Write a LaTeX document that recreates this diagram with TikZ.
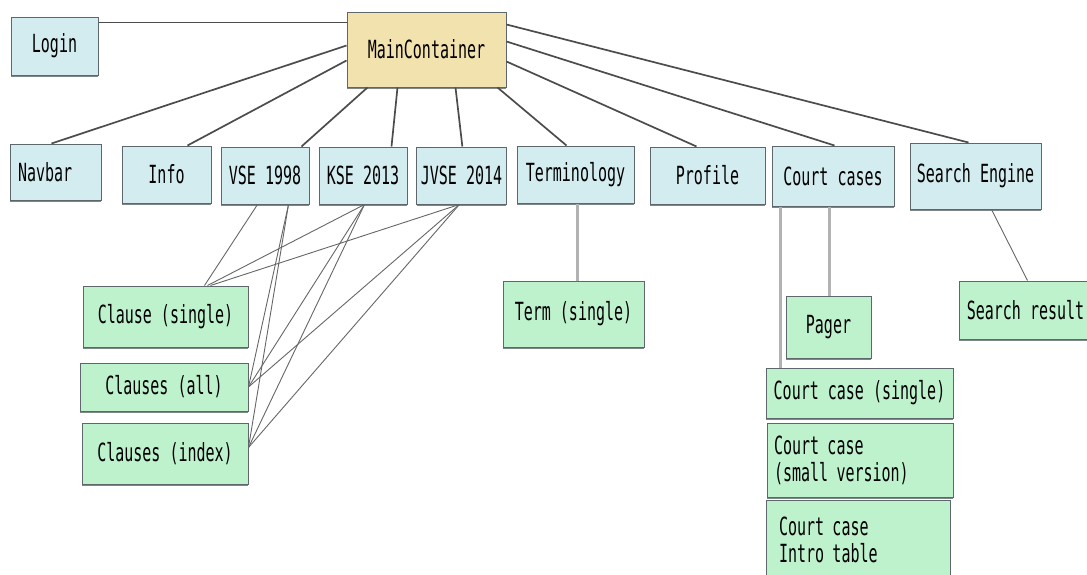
\documentclass[tikz,border=0pt]{standalone}
\usepackage{fontspec}
\setmainfont{DejaVu Sans Mono}[FakeStretch=0.6]
\usetikzlibrary{calc, shadows}
\definecolor{comp}{HTML}{D3ECF0}
\definecolor{page}{HTML}{BDF2CD}
\definecolor{root}{HTML}{F2E2AE}
\definecolor{edge}{HTML}{5E686C}

\begin{document}
\begin{tikzpicture}[
    x=1pt, y=-1pt,
    box/.style={draw=edge, fill=#1, line width=1pt, inner sep=4pt, font=\fontsize{25}{27}\selectfont,
        drop shadow={shadow xshift=0pt, shadow yshift=-2pt, fill=edge!80, opacity=1}},
    link/.style={line width=1.7pt, draw=black!70},
    sublink/.style={line width=0.9pt, draw=black!60},
    hook/.style={line width=2.2pt, draw=black!30},
]
\useasboundingbox (0,0) rectangle (1087,574);

% Root
\node[box=root, minimum width=159pt, minimum height=75pt] (main) at (426.5, 49.5) {MainContainer};
\node[box=comp, minimum width=87pt, minimum height=58pt] (login) at (54.5, 46) {Login};

% Components
\node[box=comp, minimum width=91pt, minimum height=56pt, text width=75pt, align=left] (navbar) at (55.5, 172) {Navbar};
\node[box=comp, minimum width=89pt, minimum height=57pt] (info) at (166.5, 174.5) {Info};
\node[box=comp, minimum width=88pt, minimum height=57pt] (vse) at (265, 175.5) {VSE 1998};
\node[box=comp, minimum width=88pt, minimum height=57pt] (kse) at (363, 175.5) {KSE 2013};
\node[box=comp, minimum width=89pt, minimum height=57pt] (jvse) at (461.5, 175.5) {JVSE 2014};
\node[box=comp, minimum width=117pt, minimum height=57pt] (terminology) at (575.5, 174.5) {Terminology};
\node[box=comp, minimum width=115pt, minimum height=57pt] (profile) at (707.5, 175.5) {Profile};
\node[box=comp, minimum width=122pt, minimum height=60pt] (courtcases) at (833, 176) {Court cases};
\node[box=comp, minimum width=131pt, minimum height=66pt] (search) at (975.5, 176) {Search Engine};

% Sub pages
\node[box=page, minimum width=165pt, minimum height=61pt] (clause) at (165.5, 316.5) {Clause (single)};
\node[box=page, minimum width=168pt, minimum height=48pt] (clauses) at (164, 387) {Clauses (all)};
\node[box=page, minimum width=166pt, minimum height=61pt] (clauseindex) at (165, 453.5) {Clauses (index)};
\node[box=page, minimum width=141pt, minimum height=66pt] (term) at (573.5, 314) {Term (single)};
\node[box=page, minimum width=85pt, minimum height=62pt] (pager) at (828.5, 327) {Pager};
\node[box=page, minimum width=133pt, minimum height=58pt] (result) at (1025.5, 310) {Search result};
\node[box=page, minimum width=187pt, minimum height=50pt] (casesingle) at (859.5, 393) {Court case (single)};
\node[box=page, minimum width=186pt, minimum height=74pt, text width=172pt, align=left] (casesmall) at (860, 460) {Court case\\(small version)};
\node[box=page, minimum width=184pt, minimum height=80pt, text width=158pt, align=left] (caseintro) at (858, 540) {Court case\\Intro table};

% Root links
\draw[link] ([yshift=-6pt]login.north east) -- ([yshift=-11pt]main.north west);
\draw[link] ([yshift=-34pt]main.north west) -- ([xshift=42pt]navbar.north west);
\draw[link] ([yshift=-49pt]main.north west) -- ([xshift=66pt]info.north west);
\draw[link] ([xshift=21pt]main.south west) -- ([xshift=81pt]vse.north west);
\draw[link] ([xshift=51pt]main.south west) -- ([xshift=73pt]kse.north west);
\draw[link] ([xshift=109pt]main.south west) -- ([xshift=46pt]jvse.north west);
\draw[link] ([xshift=151pt]main.south west) -- ([xshift=50pt]terminology.north west);
\draw[link] ([yshift=-50pt]main.north east) -- ([xshift=47pt]profile.north west);
\draw[link] ([yshift=-30pt]main.north east) -- ([xshift=63pt]courtcases.north west);
\draw[link] ([yshift=-13pt]main.north east) -- ([xshift=59pt]search.north west);

% Clause links
\draw[sublink] ([xshift=37pt]vse.south west) -- ([xshift=122pt]clause.north west);
\draw[sublink] ([xshift=46pt]kse.south west) -- ([xshift=125pt]clause.north west);
\draw[sublink] ([xshift=43pt]jvse.south west) -- ([xshift=128pt]clause.north west);
\foreach \src/\dx in {vse/68, kse/46, jvse/43} {
    \draw[sublink] ([xshift=\dx pt]\src.south west) -- (clauses.east);
    \draw[sublink] ([xshift=\dx pt]\src.south west) -- ([yshift=6pt]clauseindex.east);
}

% Other links
\draw[hook] ([xshift=61pt]terminology.south west) -- ([xshift=75pt]term.north west);
\draw[hook] ([xshift=9pt]courtcases.south west) -- ([xshift=15pt]casesingle.north west);
\draw[hook] ([xshift=58pt]courtcases.south west) -- ([xshift=44pt]pager.north west);
\draw[sublink] ([xshift=82pt]search.south west) -- ([xshift=69pt]result.north west);

\end{tikzpicture}
\end{document}
